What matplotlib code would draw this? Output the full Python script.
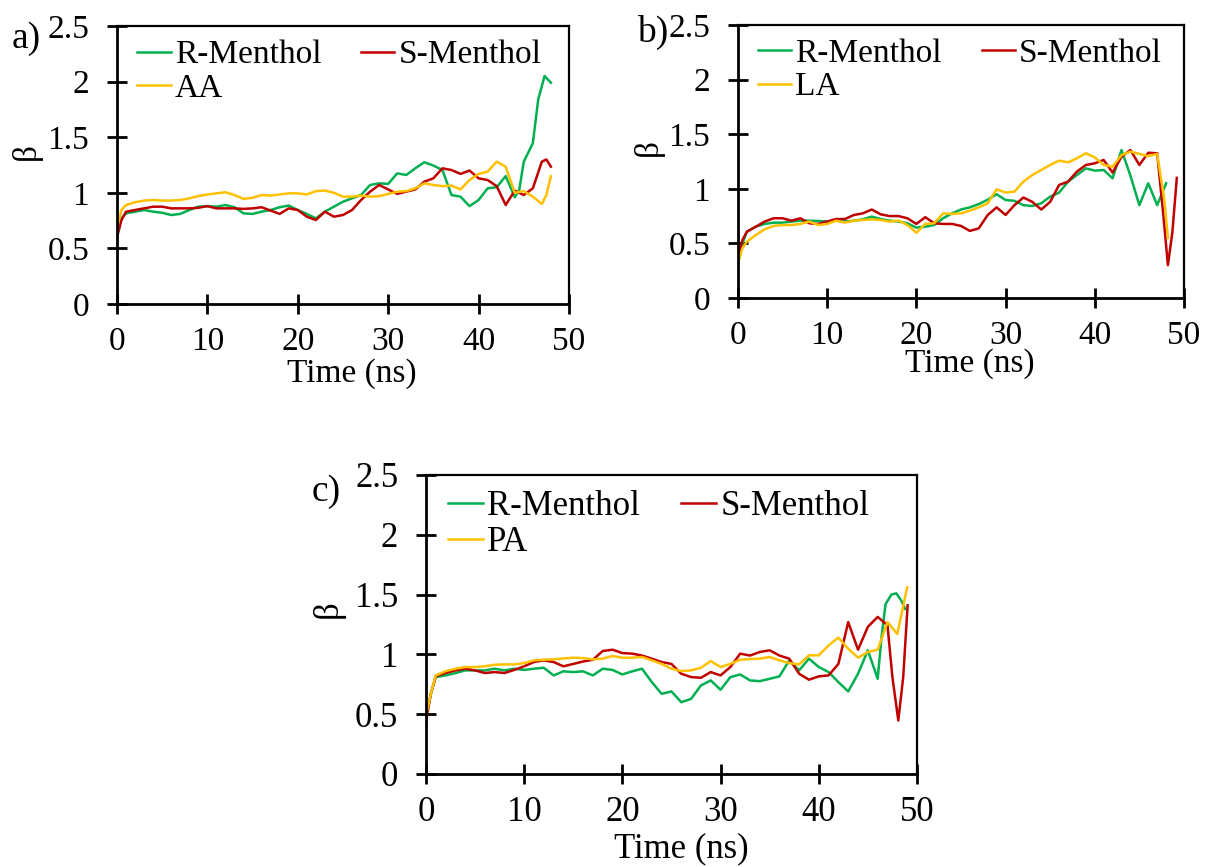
import numpy as np
import matplotlib.pyplot as plt

plt.rcParams['font.family'] = ['Liberation Serif', 'DejaVu Serif']

green = "#00B050"
red = "#C00000"
gold = "#FFC000"

# ---- panel a (AA) ----
a_time_R = [0, 0.5] + list(range(1, 45)) + [44.5, 45, 46, 46.6, 47.3, 48]
a_R = [0.62, 0.77, 0.815, 0.83, 0.845, 0.83, 0.82, 0.80, 0.81, 0.845, 0.875, 0.88,
       0.875, 0.89, 0.87, 0.815, 0.81, 0.83, 0.845, 0.87, 0.885, 0.845, 0.81, 0.77,
       0.83, 0.875, 0.92, 0.95, 0.98, 1.07, 1.085, 1.08, 1.175, 1.16, 1.22, 1.275,
       1.245, 1.205, 0.98, 0.965, 0.88, 0.935, 1.04, 1.05, 1.15, 0.96,
       1.025, 1.28, 1.445, 1.84, 2.05, 1.99]
a_time_S = [0, 0.5] + list(range(1, 48)) + [47.5, 48]
a_S = [0.60, 0.755, 0.83, 0.845, 0.86, 0.875, 0.875, 0.86, 0.86, 0.86, 0.865, 0.88,
       0.86, 0.86, 0.86, 0.855, 0.86, 0.87, 0.84, 0.81, 0.86, 0.845, 0.785, 0.755,
       0.83, 0.785, 0.80, 0.845, 0.935, 1.01, 1.07, 1.03, 0.99, 1.01, 1.03, 1.10,
       1.13, 1.22, 1.205, 1.17, 1.20, 1.13, 1.115, 1.06, 0.89, 1.02, 0.98, 1.04, 1.28,
       1.30, 1.235]
a_time_AA = [0, 0.5] + list(range(1, 48)) + [47.5, 48]
a_AA = [0.686, 0.845, 0.89, 0.915, 0.93, 0.935, 0.93, 0.93, 0.935, 0.95, 0.97, 0.985,
        0.995, 1.005, 0.98, 0.945, 0.955, 0.98, 0.975, 0.985, 0.995, 0.995, 0.985,
        1.015, 1.02, 1.00, 0.965, 0.965, 0.975, 0.965, 0.97, 0.99, 1.01, 1.015, 1.04,
        1.085, 1.07, 1.06, 1.065, 1.03, 1.115, 1.17, 1.19, 1.28, 1.235, 1.0, 1.015,
        0.965, 0.90, 0.98, 1.15]

# ---- panel b (LA) ----
b_time_R = [0, 0.5] + list(range(1, 49))
b_R = [0.317, 0.50, 0.607, 0.653, 0.678, 0.69, 0.69, 0.70, 0.708, 0.708, 0.705, 0.70,
       0.708, 0.70, 0.708, 0.72, 0.745, 0.723, 0.708, 0.70, 0.684, 0.644, 0.653, 0.668,
       0.73, 0.775, 0.81, 0.83, 0.86, 0.90, 0.95, 0.897, 0.89, 0.85, 0.842, 0.867,
       0.928, 0.965, 1.065, 1.126, 1.187, 1.166, 1.172, 1.096, 1.355, 1.12, 0.85,
       1.05, 0.85, 1.05]
b_time_S = [0, 0.5] + list(range(1, 48)) + [47.7, 48.2, 48.7, 49.2]
b_S = [0.348, 0.53, 0.607, 0.653, 0.70, 0.73, 0.73, 0.708, 0.73, 0.684, 0.678, 0.70,
       0.723, 0.723, 0.76, 0.775, 0.81, 0.766, 0.75, 0.75, 0.73, 0.678, 0.74, 0.684,
       0.678, 0.678, 0.66, 0.614, 0.638, 0.76, 0.83, 0.76, 0.85, 0.92, 0.88, 0.81,
       0.88, 1.035, 1.065, 1.157, 1.218, 1.233, 1.264, 1.148, 1.294, 1.355, 1.218,
       1.33, 1.325, 0.75, 0.30, 0.60, 1.10]
b_time_LA = [0, 0.5] + list(range(1, 48)) + [47.8, 48.2]
b_LA = [0.317, 0.455, 0.516, 0.577, 0.629, 0.66, 0.668, 0.668, 0.678, 0.70, 0.668,
        0.678, 0.708, 0.69, 0.708, 0.714, 0.72, 0.714, 0.70, 0.708, 0.668, 0.598,
        0.678, 0.684, 0.775, 0.77, 0.775, 0.80, 0.83, 0.867, 0.995, 0.965, 0.974,
        1.065, 1.126, 1.172, 1.218, 1.258, 1.242, 1.279, 1.325, 1.288, 1.218, 1.203,
        1.309, 1.34, 1.319, 1.30, 1.319, 0.90, 0.55]

# ---- panel c (PA) ----
c_time_R = [0, 0.5] + list(range(1, 47)) + [46.4, 46.8, 47.4, 47.9, 48.4, 48.8]
c_R = [0.475, 0.67, 0.81, 0.824, 0.844, 0.866, 0.866, 0.866, 0.88, 0.866, 0.88, 0.87,
       0.88, 0.888, 0.824, 0.858, 0.852, 0.858, 0.824, 0.88, 0.87, 0.832, 0.858, 0.88,
       0.768, 0.67, 0.69, 0.60, 0.628, 0.74, 0.782, 0.704, 0.81, 0.832, 0.782, 0.776,
       0.796, 0.816, 0.95, 0.866, 0.964, 0.894, 0.852, 0.768, 0.69, 0.838, 1.034,
       0.796, 1.15, 1.42, 1.50, 1.51, 1.45, 1.38]
c_time_S = [0, 0.5] + list(range(1, 48)) + [47.5, 48.1, 48.6, 49.05]
c_S = [0.447, 0.67, 0.818, 0.844, 0.866, 0.88, 0.866, 0.844, 0.852, 0.844, 0.87, 0.90,
       0.936, 0.95, 0.936, 0.90, 0.92, 0.94, 0.955, 1.028, 1.039, 1.011, 1.006, 0.99,
       0.964, 0.936, 0.92, 0.838, 0.81, 0.804, 0.852, 0.824, 0.894, 1.006, 0.99, 1.02,
       1.034, 0.99, 0.964, 0.838, 0.788, 0.816, 0.824, 0.92, 1.27, 1.039, 1.23, 1.313,
       1.243, 0.81, 0.447, 0.81, 1.41]
c_time_PA = [0, 0.5] + list(range(1, 50))
c_PA = [0.489, 0.67, 0.824, 0.86, 0.88, 0.894, 0.894, 0.90, 0.913, 0.916, 0.916, 0.927,
        0.95, 0.955, 0.958, 0.966, 0.972, 0.969, 0.958, 0.964, 0.986, 0.972, 0.972,
        0.978, 0.95, 0.92, 0.88, 0.86, 0.866, 0.888, 0.944, 0.894, 0.92, 0.955, 0.961,
        0.964, 0.978, 0.95, 0.927, 0.916, 0.992, 0.992, 1.075, 1.14, 1.047, 0.972,
        1.02, 1.039, 1.27, 1.17, 1.56]

yticks = [0, 0.5, 1, 1.5, 2, 2.5]
ytick_labels = ["0", "0.5", "1", "1.5", "2", "2.5"]
xticks = [0, 10, 20, 30, 40, 50]


def panel(ax, series, fs, xlab_y):
    for t, y, c, name in series:
        ax.plot(t, y, color=c, lw=1.8, label=name, solid_joinstyle="round")
    ax.set_xlim(0, 50)
    ax.set_ylim(0, 2.5)
    ax.set_xticks(xticks)
    ax.set_yticks(yticks)
    ax.set_yticklabels(ytick_labels)
    ax.tick_params(direction="inout", length=14, width=2, labelsize=fs)
    ax.tick_params(axis="x", pad=9)
    ax.tick_params(axis="y", pad=13)
    for s in ["left", "bottom"]:
        ax.spines[s].set_linewidth(2.0)
    for s in ["top", "right"]:
        ax.spines[s].set_linewidth(1.6)
    ax.set_xlabel("Time (ns)", fontsize=fs)
    ax.xaxis.set_label_coords(0.52, xlab_y)
    ax.set_ylabel("β", fontsize=fs)
    ax.yaxis.set_label_coords(-0.165, 0.55)
    h, l = ax.get_legend_handles_labels()
    # row-wise order: R-Menthol, S-Menthol / acid
    ax.legend([h[0], h[2], h[1]], [l[0], l[2], l[1]], ncol=2, loc="upper left",
              bbox_to_anchor=(0.045, 0.95), frameon=False, fontsize=fs,
              handlelength=1.0, handletextpad=0.12, columnspacing=1.2,
              labelspacing=0.08, borderpad=0, borderaxespad=0)


fig = plt.figure(figsize=(12.07, 8.67), dpi=100)

ax1 = fig.add_axes([0.0969, 0.6494, 0.3745, 0.3206])
panel(ax1, [(a_time_R, a_R, green, "R-Menthol"), (a_time_S, a_S, red, "S-Menthol"),
            (a_time_AA, a_AA, gold, "AA")], 24, -0.195)

ax2 = fig.add_axes([0.6114, 0.6563, 0.3695, 0.3149])
panel(ax2, [(b_time_R, b_R, green, "R-Menthol"), (b_time_S, b_S, red, "S-Menthol"),
            (b_time_LA, b_LA, gold, "LA")], 24, -0.185)

ax3 = fig.add_axes([0.3529, 0.1073, 0.4068, 0.3449])
panel(ax3, [(c_time_R, c_R, green, "R-Menthol"), (c_time_S, c_S, red, "S-Menthol"),
            (c_time_PA, c_PA, gold, "PA")], 25, -0.195)

fig.text(12 / 1207, 1 - 39 / 867, "a)", fontsize=27, ha="left", va="center")
fig.text(637 / 1207, 1 - 32 / 867, "b)", fontsize=27, ha="left", va="center")
fig.text(312 / 1207, 1 - 492 / 867, "c)", fontsize=27, ha="left", va="center")

fig.savefig("out.png", dpi=100)
